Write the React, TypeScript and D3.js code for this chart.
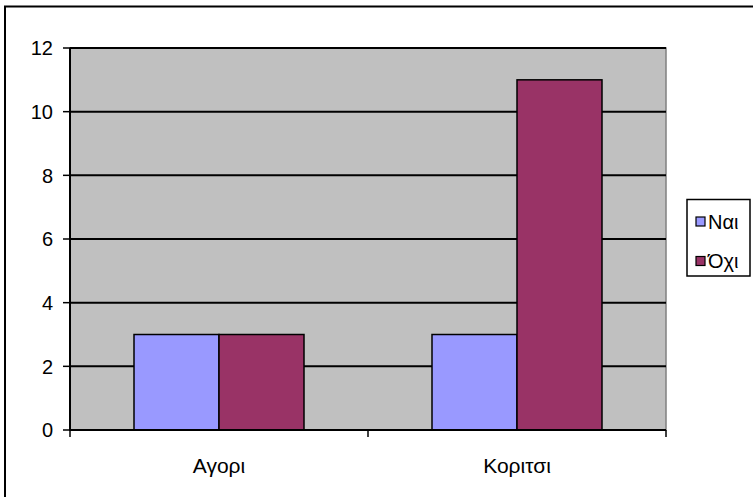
import React from "react";
import * as d3 from "d3";

const categories = ["Αγορι", "Κοριτσι"];
const seriesNames = ["Ναι", "Όχι"];
const naiValues = [3, 3];
const oxiValues = [3, 11];
const yTicks = [0, 2, 4, 6, 8, 10, 12];
const colors = ["#9999FF", "#993366"];

const W = 753;
const H = 497;
const plot = { left: 70, right: 666, top: 48, bottom: 430 };
const FONT = "'Liberation Sans', Arial, sans-serif";

export default function App() {
  const x = d3.scaleBand<string>().domain(categories).range([plot.left, plot.right]).paddingInner(0).paddingOuter(0);
  const y = d3.scaleLinear().domain([0, 12]).range([plot.bottom, plot.top]);
  const inner = d3.scaleBand<string>().domain(seriesNames).range([0, x.bandwidth()]).paddingOuter(0.753).paddingInner(0);
  const series = [naiValues, oxiValues];

  return (
    <svg width={W} height={H} style={{ position: "absolute", left: 0, top: 0, background: "#fff" }} fontFamily={FONT}>
      <rect x={5} y={6.5} width={W + 20} height={H + 20} fill="#fff" stroke="#000" strokeWidth={2} />
      <rect x={plot.left} y={plot.top} width={plot.right - plot.left} height={plot.bottom - plot.top} fill="#C0C0C0" stroke="#808080" strokeWidth={1.5} />
      {yTicks.filter((t) => t > 0).map((t) => (
        <line key={"g" + t} x1={plot.left} x2={plot.right} y1={y(t)} y2={y(t)} stroke="#000" strokeWidth={2} />
      ))}
      {categories.map((c, i) =>
        seriesNames.map((s, j) => {
          const v = series[j][i];
          const bx = (x(c) as number) + (inner(s) as number);
          return (
            <rect key={c + s} x={bx} y={y(v)} width={inner.bandwidth()} height={y(0) - y(v)} fill={colors[j]} stroke="#000" strokeWidth={1.5} />
          );
        })
      )}
      {/* axes */}
      <line x1={plot.left} x2={plot.left} y1={plot.top} y2={plot.bottom + 1} stroke="#000" strokeWidth={2} />
      <line x1={plot.left - 1} x2={plot.right} y1={plot.bottom} y2={plot.bottom} stroke="#000" strokeWidth={2} />
      {yTicks.map((t) => (
        <g key={"t" + t}>
          <line x1={plot.left - 7} x2={plot.left} y1={y(t)} y2={y(t)} stroke="#000" strokeWidth={1.5} />
          <text x={53} y={y(t)} dy="0.36em" textAnchor="end" fontSize={20} fill="#000">{t}</text>
        </g>
      ))}
      {[plot.left, plot.left + x.bandwidth(), plot.right].map((tx, i) => (
        <line key={"xt" + i} x1={tx} x2={tx} y1={plot.bottom} y2={plot.bottom + 7} stroke="#000" strokeWidth={1.5} />
      ))}
      {categories.map((c) => (
        <text key={"l" + c} x={(x(c) as number) + x.bandwidth() / 2} y={465} dy="0.36em" textAnchor="middle" fontSize={21} fill="#000">{c}</text>
      ))}
      {/* legend */}
      <rect x={687} y={199.5} width={63} height={76.5} fill="#fff" stroke="#000" strokeWidth={1.5} />
      {seriesNames.map((s, j) => (
        <g key={"lg" + s}>
          <rect x={696} y={(j === 0 ? 221.5 : 261) - 4.5} width={9} height={9} fill={colors[j]} stroke="#000" strokeWidth={1.2} />
          <text x={708} y={j === 0 ? 221.5 : 261} dy="0.36em" fontSize={20} fill="#000">{s}</text>
        </g>
      ))}
    </svg>
  );
}
